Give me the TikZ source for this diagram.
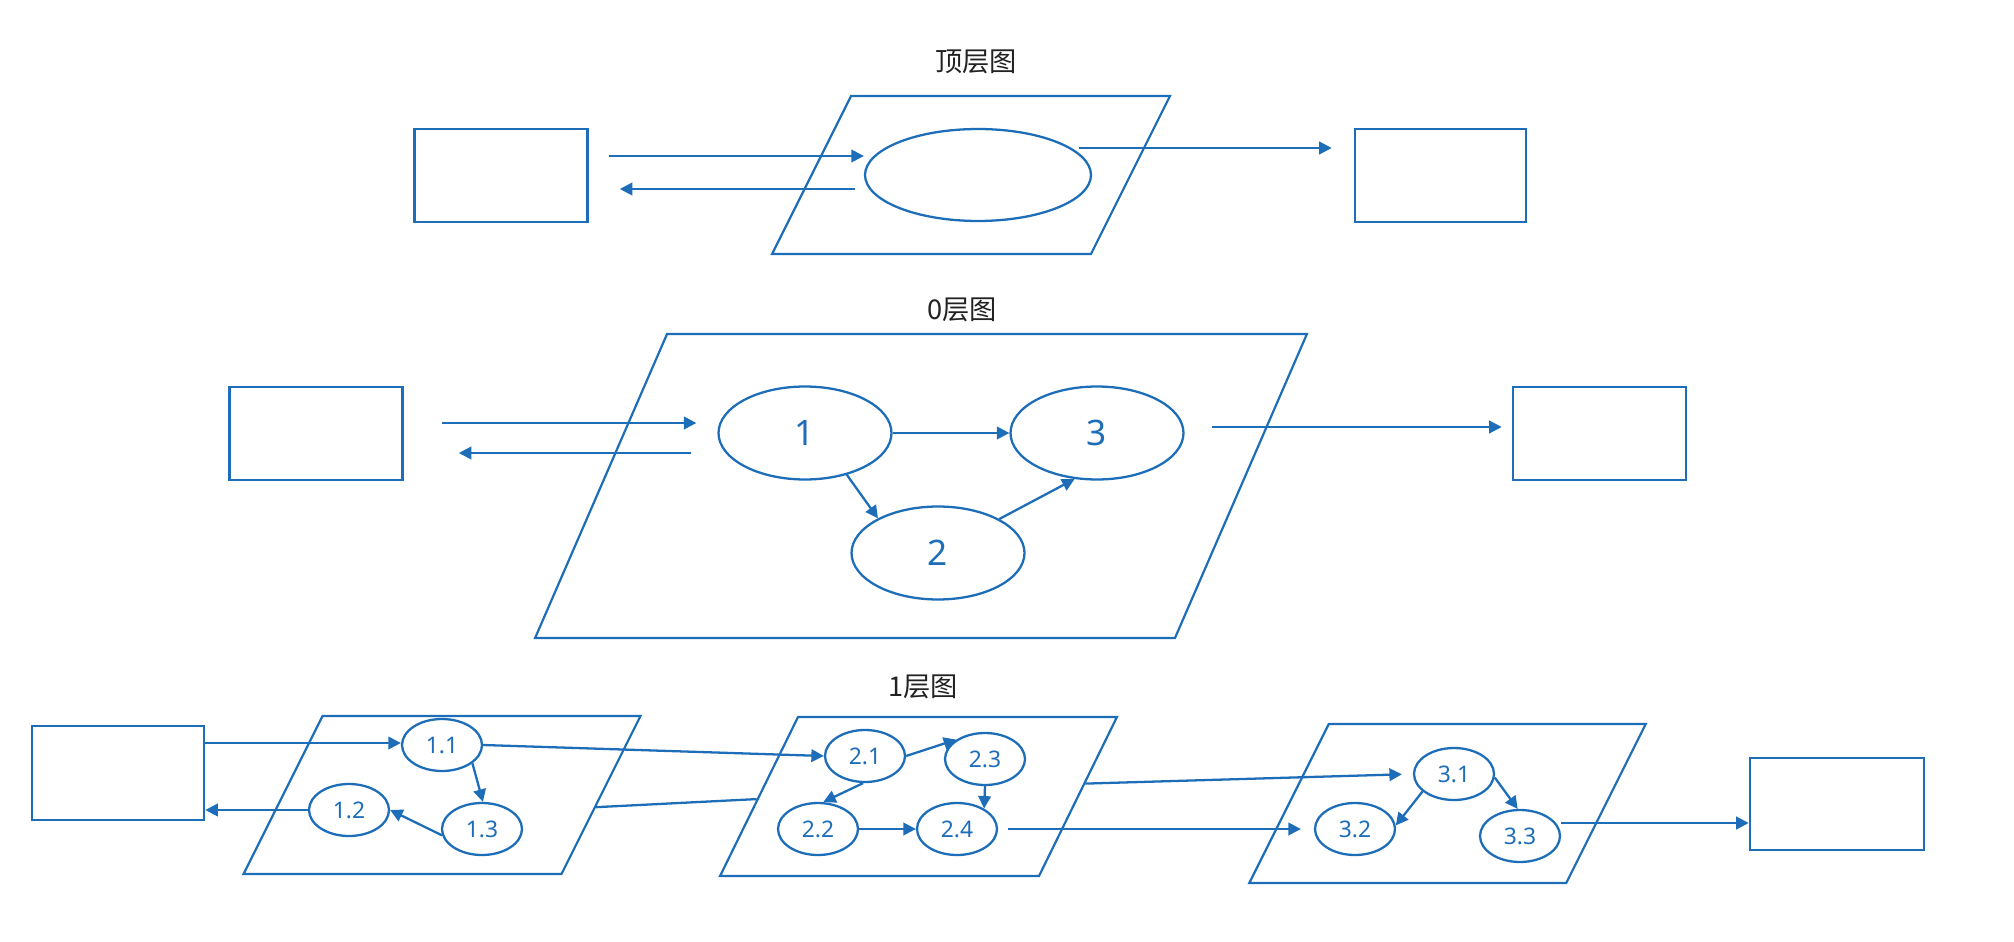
\documentclass[tikz,border=0pt]{standalone}
\usepackage{fontspec}
\newfontfamily\cjk{Noto Sans CJK SC}
\newfontfamily\numf{Noto Sans}
\usetikzlibrary{shapes.geometric,arrows.meta,calc}
\definecolor{dfd}{HTML}{1D6DB8}
\definecolor{ink}{HTML}{222222}

\begin{document}
\begin{tikzpicture}[
  x=0.02cm, y=-0.02cm,
  >={Triangle[length=0.25cm,width=0.25cm]},
  ent/.style={draw=dfd, line width=1.5pt, inner sep=0pt, minimum width=3.46cm, minimum height=1.86cm},
  plane/.style={draw=dfd, line width=1.25pt, inner sep=0pt},
  proc/.style={ellipse, draw=dfd, line width=1.3pt, inner sep=0pt, text=dfd,
    font=\numf\fontsize{20}{24}\selectfont, minimum width=3.46cm, minimum height=1.86cm},
  sub/.style={ellipse, draw=dfd, line width=1.3pt, inner sep=0pt, text=dfd,
    font=\numf\fontsize{13}{15}\selectfont, minimum width=1.6cm, minimum height=1.04cm},
  flow/.style={->, line width=1.3pt, dfd},
  ttl/.style={text=ink, font=\cjk\fontsize{15.5}{18}\selectfont}
]
\useasboundingbox (0,0) rectangle (2014,942);

% ---------------------------------------------------------------- top level
\node[ttl] (ttop) at (976,62) {顶层图};
\node[plane, minimum width=6.38cm, minimum height=3.16cm, xslant=0.5] (ptop) at (971,175) {};
\node[ent] (tl) at (501,175.5) {};
\node[ent, minimum width=3.42cm] (tr) at (1440.5,175.5) {};
\node[proc, minimum width=4.52cm, minimum height=1.84cm] (tp) at (978,175) {};

\draw[flow, shorten <=0.4cm] ([yshift=0.39cm]tl.east) -- ([yshift=0.39cm]tl.east -| tp.west);
\draw[flow, shorten <=0.18cm, shorten >=0.62cm] ([yshift=-0.27cm]tl.east -| tp.west) -- ([yshift=-0.27cm]tl.east);
\draw[flow, shorten >=0.44cm] ([xshift=-0.26cm,yshift=0.55cm]tp.east |- tr.west) -- ([yshift=0.55cm]tr.west);

% ---------------------------------------------------------------- level 0
\node[ttl] (tzero) at (962,310) {0层图};
\node[plane, minimum width=12.8cm, minimum height=6.08cm, xslant=0.434] (pzero) at (921,486) {};
\node[ent] (zl) at (316,433.5) {};
\node[ent] (zr) at (1599.5,433.5) {};
\node[proc] (z1) at (805,433) {1};
\node[proc] (z3) at (1097,433) {3};
\node[proc] (z2) at (938,553) {2};

\draw[flow, shorten <=0.76cm, shorten >=0.42cm] ([yshift=0.21cm]zl.east) -- ([yshift=0.21cm]zl.east -| z1.west);
\draw[flow, shorten <=0.52cm, shorten >=1.1cm] ([yshift=-0.39cm]zl.east -| z1.west) -- ([yshift=-0.39cm]zl.east);
\draw[flow] (z1) -- (z3);
\draw[flow] (z1.-45) -- (z2.150);
\draw[flow] (z2.29) -- (z3.244);
\draw[flow, shorten >=0.2cm] ([xshift=0.54cm,yshift=0.13cm]z3.east |- zr.west) -- ([yshift=0.13cm]zr.west);

% ---------------------------------------------------------------- level 1
\node[ttl] (tone) at (923,687) {1层图};
\node[plane, minimum width=6.36cm, minimum height=3.16cm, xslant=0.5] (pa) at (442,795) {};
\node[plane, minimum width=6.38cm, minimum height=3.18cm, xslant=0.49] (pb) at (918.5,796.5) {};
\node[plane, minimum width=6.34cm, minimum height=3.18cm, xslant=0.5] (pc) at (1447.5,803.5) {};
\node[ent, minimum width=3.44cm, minimum height=1.88cm] (ol) at (118,773) {};
\node[ent, minimum width=3.48cm, minimum height=1.84cm] (or) at (1837,804) {};

\node[sub] (n11) at (442,745) {1.1};
\node[sub] (n12) at (349,810) {1.2};
\node[sub] (n13) at (482,829) {1.3};
\node[sub] (n21) at (865,756) {2.1};
\node[sub] (n23) at (985,759) {2.3};
\node[sub] (n22) at (818,829) {2.2};
\node[sub] (n24) at (957,829) {2.4};
\node[sub] (n31) at (1454,774) {3.1};
\node[sub] (n32) at (1355,829) {3.2};
\node[sub] (n33) at (1520,836) {3.3};

% process 1
\draw[flow] ([yshift=0.6cm]ol.east) -- ([yshift=0.6cm]ol.east -| n11.west);
\draw[flow] (n12.west) -- (n12.west -| ol.east);
\draw[flow] (n11.-31) -- (n13.88);
\draw[flow] (n13.189) -- (n12.east);
% process 1 -> process 2
\draw[flow] (n11.east) -- (n21.west);
\draw[dfd, line width=1.3pt] ($(pa.north east)!0.576!(pa.south east)$) -- ($(pb.north west)!0.516!(pb.south west)$);
% process 2
\draw[flow] (n21.266) -- (n22.79);
\draw[flow] (n21.east) -- (n23.146);
\draw[flow] (n23.south) -- (n24.37);
\draw[flow] (n22) -- (n24);
% process 2 -> process 3
\draw[flow, shorten >=0.22cm] ($(pb.north east)!0.42!(pb.south east)$) -- (n31.west);
\draw[flow, shorten <=0.2cm, shorten >=0.26cm] (n24.east) -- (n32.west);
% process 3
\draw[flow] (n31.209) -- (n32.5);
\draw[flow] (n31.-5) -- (n33.95);
\draw[flow] ([yshift=-0.38cm]or.west -| n33.east) -- ([yshift=-0.38cm]or.west);
\end{tikzpicture}
\end{document}
